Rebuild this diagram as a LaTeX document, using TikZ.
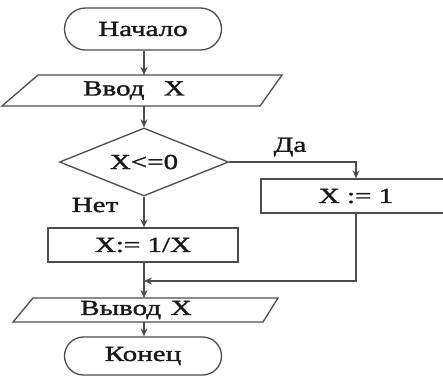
\documentclass[tikz,border=0pt]{standalone}
\usepackage{fontspec}
\setmainfont{Liberation Serif}[FakeStretch=1.35, FakeBold=1.5]
\usetikzlibrary{shapes.geometric,shapes.misc,arrows.meta}
\begin{document}
\begin{tikzpicture}[x=1pt,y=-1pt,
  line/.style={draw=black!70, line width=1.3pt},
  arr/.style={line, -{Stealth[length=8pt,width=7pt]}},
  txt/.style={font=\fontsize{21.5}{24}\selectfont, text=black!90},
  term/.style={txt, rounded rectangle, line, minimum width=157pt, inner sep=0pt},
  proc/.style={txt, rectangle, line, minimum width=190pt, minimum height=34pt, inner sep=0pt},
  dec/.style={txt, diamond, line, aspect=2.5, minimum width=169pt, minimum height=68pt, inner sep=0pt},
  io/.style={line, line join=miter},
  lbl/.style={txt}
]
\useasboundingbox (0,0) rectangle (443,376);

% start
\node[term, minimum height=42pt] (start) at (143,29) {Начало};

% input parallelogram
\draw[io] (2,106) -- (38,75) -- (282,75) -- (260,106) -- cycle;
\node[txt, minimum height=31pt, inner sep=0pt] (in) at (134,90.5) {Ввод\hspace{0.9em}X};
\coordinate (inN) at (144,75);
\coordinate (inS) at (144,106);

% decision
\node[dec] (dia) at (144,162) {X<=0};

% boxes
\node[proc] (box2) at (356,196) {X := 1};
\node[proc] (box1) at (143,245) {X:= 1/X};

% output parallelogram
\draw[io] (13,322) -- (33,298) -- (278,298) -- (263,322) -- cycle;
\node[txt, inner sep=0pt] (out) at (136,310) {Вывод\hspace{0.45em}X};
\coordinate (outN) at (144,298);
\coordinate (outS) at (144,322);

% end
\node[term, minimum height=38pt] (end) at (143,356) {Конец};

% labels
\node[lbl] (yes) at (290,147) {Да};
\node[lbl] (no) at (95,205) {Нет};

% connectors
\coordinate (merge) at (144,281);
\draw[arr] (start.south -| inN) -- (inN);
\draw[arr] (inS) -- (dia.north);
\draw[arr] (dia.east) -- (dia.east -| box2.north) -- (box2.north);
\draw[arr] (dia.south) -- (dia.south |- box1.north);
\draw[arr] (box1.south -| outN) -- (outN);
\draw[arr] (box2.south) -- (box2.south |- merge) -- (merge);
\draw[arr] (outS) -- (end.north -| outS);
\end{tikzpicture}
\end{document}
